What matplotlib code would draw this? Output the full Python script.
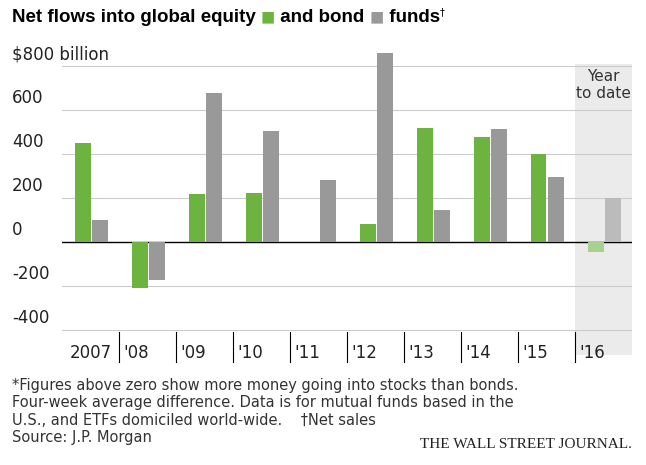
import matplotlib
matplotlib.use("Agg")
import matplotlib.pyplot as plt
import numpy as np

labels = ["2007", "'08", "'09", "'10", "'11", "'12", "'13", "'14", "'15", "'16"]
equity = [452, -209, 218, 223, 0, 82, 518, 477, 400, -45]
bond = [100, -173, 677, 505, 282, 859, 145, 514, 295, 200]
yticks = [800, 600, 400, 200, 0, -200, -400]
ytick_labels = ["$800 billion", "600", "400", "200", "0", "-200", "-400"]

W, H = 646, 465
fig = plt.figure(figsize=(W/100, H/100), dpi=100)
ax = fig.add_axes([62/W, (H-355)/H, (632-62)/W, 305/H])
ax.set_xlim(0, len(labels))
ax.set_ylim(-514, 873)
for s in ax.spines.values():
    s.set_visible(False)
ax.set_xticks([]); ax.set_yticks([])

green, grey = "#6db33f", "#999999"
ax.fill_between([len(labels)-1, len(labels)], -514, 810, color="#ebebeb", zorder=0, lw=0)
for v in yticks:
    ax.axhline(v, color="black" if v == 0 else "#cccccc", lw=1.0 if v == 0 else 0.8, zorder=1)
x = np.arange(len(labels))
bw = 0.28
for i in x:
    last = i == len(labels)-1
    ax.bar(i+0.22, equity[i], bw, align="edge", color="#a9d18e" if last else green, zorder=2)
    ax.bar(i+0.52, bond[i], bw, align="edge", color="#bbbbbb" if last else grey, zorder=2)
ax.text(len(labels)-0.5, 785, "Year\nto date", ha="center", va="top", fontsize=11, color="#333333", linespacing=1.1)

for v, t in zip(yticks, ytick_labels):
    yf = ax.transData.transform((0, v))[1] / H
    fig.text(12/W, yf + 3/H, t, ha="left", va="bottom", fontsize=12, color="#222222")

for i, t in enumerate(labels):
    if i > 0:
        ax.plot([i, i], [-410, -545], color="black", lw=0.8, clip_on=False, zorder=3)
    if i == 0:
        ax.text(0.5, -505, t, ha="center", va="center", fontsize=12, color="#222222")
    else:
        ax.text(i+0.08, -505, t, ha="left", va="center", fontsize=12, color="#222222")

fig.canvas.draw()
r = fig.canvas.get_renderer()
parts = [("Net flows into global equity ", "black", 13.5), ("\u25A0", green, 17), (" and bond ", "black", 13.5),
         ("\u25A0", grey, 17), (" funds", "black", 13.5)]
xp = 12
for t, c, fs in parts:
    tx = fig.text(xp/W, (H-18)/H, t, ha="left", va="center", fontsize=fs, fontweight="bold",
                  color=c, fontfamily="Liberation Sans")
    xp += tx.get_window_extent(r).width
fig.text(xp/W, (H-12)/H, "\u2020", ha="left", va="center", fontsize=7, color="black")

notes = ("*Figures above zero show more money going into stocks than bonds.\n"
         "Four-week average difference. Data is for mutual funds based in the\n"
         "U.S., and ETFs domiciled world-wide.    \u2020Net sales\n"
         "Source: J.P. Morgan")
fig.text(12/W, (H-378)/H, notes, ha="left", va="top", fontsize=10.5, color="#333333", linespacing=1.2)
fig.text(632/W, (H-444)/H, "THE WALL STREET JOURNAL.", ha="right", va="center", fontsize=11,
         fontfamily="Liberation Serif", color="#222222")
fig.savefig("out.png", dpi=100)
